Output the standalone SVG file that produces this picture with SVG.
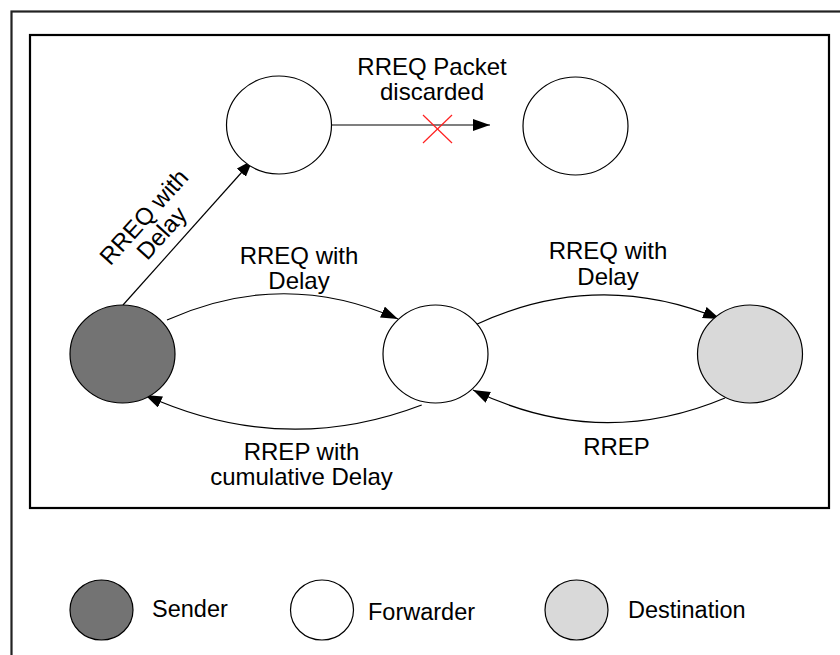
<svg xmlns="http://www.w3.org/2000/svg" width="840" height="655" viewBox="0 0 840 655">
<style>
  .t { font-family: "Liberation Sans", Arial, sans-serif; font-size: 24px; fill: #000; text-anchor: middle; }
  .lg { font-family: "Liberation Sans", Arial, sans-serif; font-size: 23.5px; fill: #000; }
  .node { stroke: #000; stroke-width: 1.2; }
  .fwd { fill: #fff; }
  .snd { fill: #737373; }
  .dst { fill: #d9d9d9; }
  .conn { fill: none; stroke: #000; stroke-width: 1.2; marker-end: url(#arr); }
</style>
<defs>
  <marker id="arr" markerUnits="userSpaceOnUse" markerWidth="20" markerHeight="14" refX="17" refY="6" orient="auto">
    <path d="M0,0 L17,6 L0,12 z" fill="#000"/>
  </marker>
</defs>
<rect x="0" y="0" width="840" height="655" fill="#fff"/>
<g id="frames">
  <rect x="11.5" y="11.5" width="850" height="660" fill="none" stroke="#222" stroke-width="2.2"/>
  <rect x="30" y="35" width="799" height="473" fill="none" stroke="#000" stroke-width="2.2"/>
</g>
<g id="connectors">
  <path class="conn" d="M123,305 L252.7,160"/>
  <path class="conn" d="M331.7,125 L490,125"/>
  <path class="conn" d="M167,320 Q283,268 398,319"/>
  <path class="conn" d="M421.7,405 Q283,458 145,395"/>
  <path class="conn" d="M475,325 Q597,268 720,319"/>
  <path class="conn" d="M725,398 Q599,451 473,390"/>
  <g id="discard-mark" stroke="#ff2020" stroke-width="1.2">
    <line x1="423" y1="115" x2="452" y2="143"/>
    <line x1="452" y1="115" x2="423" y2="143"/>
  </g>
</g>
<g id="node-top-forwarder"><ellipse class="node fwd" cx="279" cy="125" rx="52.5" ry="49"/></g>
<g id="node-top-right"><ellipse class="node fwd" cx="575.5" cy="126" rx="52.5" ry="49"/></g>
<g id="node-sender"><ellipse class="node snd" cx="122.5" cy="354" rx="52.5" ry="49"/></g>
<g id="node-forwarder"><ellipse class="node fwd" cx="435.5" cy="354" rx="52.5" ry="49"/></g>
<g id="node-destination"><ellipse class="node dst" cx="750" cy="354" rx="52.5" ry="49"/></g>
<g id="labels">
  <text class="t" x="432" y="75">RREQ Packet</text>
  <text class="t" x="432" y="100">discarded</text>
  <text class="t" x="299" y="264">RREQ with</text>
  <text class="t" x="299" y="289">Delay</text>
  <text class="t" x="608" y="259">RREQ with</text>
  <text class="t" x="608" y="285">Delay</text>
  <text class="t" x="616.5" y="455">RREP</text>
  <text class="t" x="301.5" y="460">RREP with</text>
  <text class="t" x="301.5" y="485">cumulative Delay</text>
  <g transform="translate(144,217) rotate(-48)">
    <text class="t" x="0" y="8">RREQ with</text>
    <text class="t" x="0" y="32">Delay</text>
  </g>
</g>
<g id="legend">
  <g id="legend-sender"><ellipse class="node snd" cx="101.5" cy="610" rx="31.5" ry="30"/><text class="lg" x="152" y="617">Sender</text></g>
  <g id="legend-forwarder"><ellipse class="node fwd" cx="322" cy="610" rx="31.5" ry="30"/><text class="lg" x="368" y="620">Forwarder</text></g>
  <g id="legend-destination"><ellipse class="node dst" cx="576.5" cy="610" rx="31.5" ry="30"/><text class="lg" x="628" y="618">Destination</text></g>
</g>
</svg>
